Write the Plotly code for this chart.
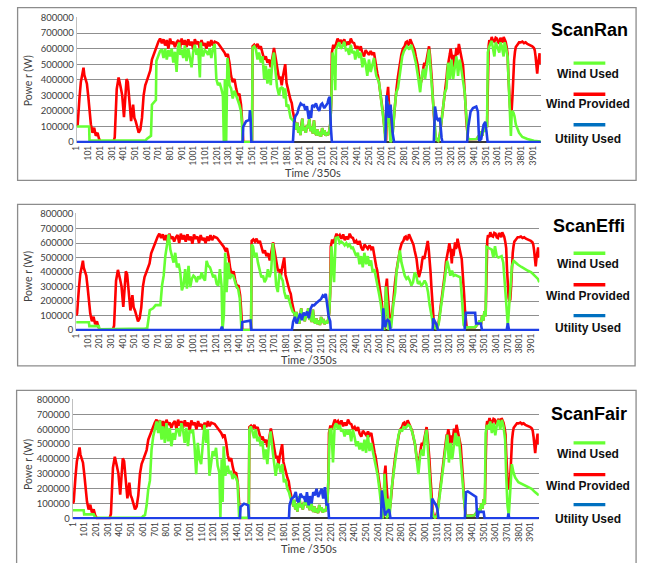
import plotly.graph_objects as go

# ---------------- data (time step index, power in kW; plotted in W) ----------------
X_TICKS = list(range(1, 4000, 100))
Y_TICKS = [0, 100000, 200000, 300000, 400000, 500000, 600000, 700000, 800000]

RED_A = [(1,100),(9,113),(24,280),(36,385),(50,440),(59,478),(66,430),(74,405),(88,375),(100,290),(111,195),(122,113),(136,60),(150,92),(164,40),(179,60),(192,20),(206,0),(314,0),(326,30),(343,340),(359,415),(376,355),(390,300),(405,160),(418,300),(427,405),(438,385),(452,260),(466,135),(483,240),(494,155),(505,135),(517,100),(531,60),(545,80),(559,155),(573,300),(587,365),(601,395),(616,435),(630,460),(644,530),(658,560),(672,595),(686,625),(700,645),(714,665),(729,635),(743,660),(757,620),(771,655),(785,600),(799,665),(813,630),(827,645),(841,610),(855,640),(870,655),(884,600),(898,665),(912,625),(926,655),(940,610),(955,660),(969,620),(983,645),(997,595),(1011,660),(1025,630),(1040,645),(1054,600),(1068,655),(1082,620),(1096,635),(1110,600),(1124,645),(1138,615),(1152,655),(1166,620),(1181,645),(1195,640),(1209,635),(1223,620),(1237,605),(1251,590),(1265,575),(1279,550),(1293,565),(1307,510),(1321,425),(1335,385),(1350,405),(1364,345),(1378,300),(1392,310),(1406,240),(1414,150),(1420,30),(1425,0),(1500,0),(1505,615),(1519,625),(1533,610),(1547,630),(1561,600),(1575,615),(1590,560),(1604,530),(1618,550),(1632,510),(1646,530),(1660,480),(1674,540),(1688,605),(1698,560),(1708,510),(1720,450),(1731,405),(1742,420),(1754,365),(1764,420),(1773,460),(1784,500),(1795,380),(1810,320),(1820,300),(1830,270),(1840,250),(1850,195),(1860,150)]

# low-wind stretch where all wind provided is used (shared by every panel)
LOW = [(1872,113),(1880,80),(1888,125),(1896,60),(1905,95),(1914,45),(1922,110),(1930,150),(1940,75),(1950,95),(1960,60),(1970,110),(1980,90),(1990,150),(2000,70),(2010,100),(2020,55),(2030,140),(2040,60),(2050,45),(2060,80),(2070,40),(2080,65),(2090,35),(2100,90),(2110,50),(2120,75),(2130,40),(2140,60),(2150,45),(2160,70),(2170,120),(2178,260)]

RED_B = [(2183,575),(2195,625),(2205,600),(2212,615),(2222,640),(2232,665),(2246,640),(2260,655),(2274,630),(2289,660),(2303,620),(2317,645),(2331,625),(2345,665),(2359,640),(2373,635),(2388,600),(2402,615),(2416,590),(2430,615),(2444,570),(2458,550),(2472,590),(2486,575),(2500,560),(2515,585),(2529,560),(2543,575),(2553,520),(2563,470),(2572,440),(2580,415),(2590,360),(2599,320),(2609,250),(2619,195),(2628,120),(2636,50),(2647,8),(2656,300),(2664,355),(2670,260),(2675,195),(2684,135),(2692,20),(2706,92),(2713,160),(2720,218),(2734,330),(2748,420),(2763,500),(2777,560),(2791,600),(2805,615),(2815,640),(2825,645),(2835,620),(2845,635),(2853,660),(2862,645),(2872,630),(2881,615),(2891,590),(2901,550),(2910,520),(2918,490),(2928,420),(2938,365),(2947,390),(2957,425),(2966,480),(2974,510),(2984,490),(2994,530),(3004,570),(3014,615),(3022,560),(3031,490),(3038,400),(3045,300),(3052,200),(3059,113),(3066,50),(3073,20),(3093,8),(3107,50),(3121,135),(3135,218),(3149,320),(3156,380),(3163,405),(3170,470),(3177,510),(3185,560),(3192,565),(3199,600),(3206,565),(3213,530),(3220,460),(3227,560),(3234,510),(3241,580),(3248,605),(3255,560),(3262,575),(3269,630),(3276,595),(3283,560),(3290,550),(3297,520),(3305,490),(3312,420),(3319,345),(3326,240),(3333,135),(3340,60)]

SMALL = [(3347,20),(3361,18),(3400,18),(3420,20),(3450,50),(3460,65),(3470,40),(3480,100),(3490,65),(3500,130),(3510,95)]

RED_C = [(3517,575),(3524,620),(3530,655),(3540,640),(3550,675),(3561,650),(3573,645),(3584,670),(3595,665),(3605,640),(3615,635),(3625,670),(3635,655),(3644,640),(3652,675),(3660,660),(3669,645),(3678,610),(3686,565),(3693,420),(3700,300),(3707,220),(3714,195),(3721,210),(3728,300),(3735,450),(3742,530),(3749,580),(3756,610),(3770,625),(3784,640),(3798,640),(3812,645),(3826,635),(3840,640),(3855,630),(3869,625),(3883,625),(3897,615),(3911,605),(3918,590),(3925,550),(3932,480),(3939,440),(3946,500),(3953,530),(3960,570),(3967,520),(3970,500)]

# ScanRan wind used
G1_A = [(1,100),(107,100),(110,10),(590,10),(600,20),(620,30),(636,40),(644,240),(658,250),(672,260),(678,270),(682,520),(700,560),(714,585),(729,595),(743,540),(757,600),(771,530),(785,590),(799,550),(813,600),(827,510),(841,580),(855,450),(866,600),(877,640),(887,560),(898,595),(912,540),(926,620),(940,520),(955,600),(969,540),(983,480),(997,580),(1011,625),(1025,560),(1040,600),(1054,415),(1061,640),(1068,600),(1082,550),(1096,590),(1110,580),(1124,560),(1138,600),(1152,540),(1166,600),(1181,630),(1188,500),(1195,405),(1209,365),(1223,380),(1237,345),(1251,300),(1259,0),(1268,405),(1279,0),(1290,540),(1300,470),(1307,365),(1321,345),(1335,280),(1350,330),(1364,300),(1378,260),(1392,240),(1406,195),(1414,120),(1420,0),(1500,0),(1505,605),(1519,615),(1533,595),(1547,530),(1561,575),(1575,510),(1590,550),(1604,405),(1618,490),(1632,375),(1646,470),(1660,365),(1674,520),(1688,575),(1700,460),(1714,355),(1731,300),(1742,345),(1754,350),(1764,345),(1773,280),(1784,345),(1795,228),(1810,240),(1820,195),(1830,155),(1850,140),(1860,130)]
G1_B = [(2183,575),(2189,575),(2203,510),(2212,333),(2218,595),(2232,620),(2246,640),(2260,600),(2274,615),(2289,645),(2303,590),(2317,595),(2331,560),(2345,625),(2359,570),(2373,585),(2383,530),(2402,595),(2416,540),(2430,575),(2444,480),(2458,540),(2472,500),(2486,425),(2500,530),(2515,450),(2529,500),(2543,540),(2553,470),(2563,425),(2586,385),(2600,300),(2609,250),(2619,195),(2628,120),(2640,8),(2656,230),(2661,260),(2675,113),(2684,0),(2692,10),(2706,70),(2720,218),(2734,320),(2748,345),(2768,470),(2785,550),(2800,585),(2825,615),(2845,595),(2862,625),(2881,575),(2901,510),(2923,405),(2938,320),(2952,425),(2966,470),(2980,405),(2997,510),(3014,595),(3031,425),(3045,280),(3059,113),(3066,50),(3073,20),(3093,8),(3107,50),(3121,135),(3135,218),(3149,320),(3163,345),(3177,510),(3192,405),(3206,530),(3220,405),(3234,490),(3248,550),(3262,425),(3276,530),(3290,470),(3305,405),(3319,320),(3326,240),(3333,135),(3340,60)]
G1_C = [(3517,575),(3530,615),(3550,650),(3561,600),(3573,550),(3584,640),(3595,615),(3605,590),(3615,575),(3625,640),(3635,620),(3652,550),(3660,640),(3669,615),(3686,550),(3693,420),(3700,300),(3707,200),(3714,40),(3722,200),(3735,190),(3745,165),(3756,113),(3784,60),(3812,33),(3855,20),(3911,8),(3970,4)]

# ScanEffi wind used
G2_A = [(1,54),(110,54),(114,27),(195,27),(200,5),(580,5),(590,10),(610,12),(624,100),(632,138),(660,150),(682,172),(723,172),(737,307),(751,375),(765,510),(780,590),(794,660),(808,555),(822,500),(836,465),(850,533),(865,432),(879,460),(893,398),(907,273),(921,307),(935,420),(950,285),(964,443),(978,296),(992,353),(1006,375),(1020,364),(1034,330),(1048,370),(1063,353),(1077,398),(1091,360),(1105,341),(1119,477),(1133,443),(1148,432),(1162,398),(1176,364),(1190,380),(1205,319),(1219,307),(1233,420),(1247,307),(1255,0),(1267,104),(1278,533),(1290,262),(1304,465),(1318,353),(1333,380),(1347,375),(1361,330),(1375,300),(1389,285),(1403,217),(1418,0),(1500,0),(1505,590),(1516,578),(1531,500),(1545,533),(1559,465),(1574,398),(1588,364),(1602,375),(1616,330),(1630,353),(1644,420),(1658,364),(1672,409),(1686,600),(1700,488),(1715,307),(1729,262),(1743,390),(1757,360),(1771,341),(1785,262),(1800,217),(1814,240),(1828,194),(1842,160),(1856,127)]
G2_B = [(2183,575),(2189,578),(2203,398),(2211,330),(2225,635),(2245,640),(2259,600),(2273,610),(2288,600),(2302,585),(2316,600),(2330,578),(2344,590),(2358,567),(2372,570),(2387,545),(2401,510),(2415,533),(2429,454),(2443,510),(2457,432),(2471,533),(2486,454),(2500,510),(2514,443),(2528,480),(2542,398),(2556,420),(2571,364),(2585,307),(2599,240),(2613,172),(2627,59),(2640,0),(2652,200),(2656,300),(2667,172),(2679,0),(2688,80),(2700,14),(2718,172),(2735,262),(2746,398),(2760,488),(2775,550),(2789,465),(2803,409),(2817,375),(2831,353),(2845,364),(2860,341),(2874,307),(2888,330),(2902,398),(2916,375),(2930,319),(2945,330),(2959,307),(2973,319),(2987,341),(3001,320),(3016,262),(3030,172),(3044,93),(3058,47),(3075,14),(3095,8),(3109,50),(3123,135),(3137,218),(3151,320),(3165,400),(3180,477),(3194,432),(3208,375),(3222,409),(3236,375),(3250,380),(3265,375),(3279,370),(3293,364),(3307,217),(3321,36),(3336,14)]
G2_C = [(3517,575),(3534,567),(3548,560),(3562,555),(3576,500),(3590,578),(3605,510),(3619,500),(3633,505),(3647,510),(3661,465),(3675,330),(3689,172),(3700,31),(3714,194),(3735,440),(3750,477),(3770,460),(3788,450),(3817,435),(3845,420),(3873,409),(3901,398),(3930,375),(3958,353),(3970,330)]

# ScanFair wind used
G3_A = [(1,55),(94,55),(98,27),(179,27),(193,4),(588,4),(600,15),(616,22),(630,88),(644,199),(658,254),(672,464),(686,552),(700,608),(715,652),(729,575),(743,660),(757,530),(771,619),(785,508),(799,641),(813,519),(827,608),(841,486),(856,575),(870,530),(884,600),(898,600),(912,552),(926,641),(940,597),(954,508),(968,610),(982,486),(996,595),(1010,575),(1024,600),(1038,486),(1052,298),(1066,508),(1080,398),(1094,365),(1108,486),(1122,630),(1137,508),(1151,600),(1165,287),(1179,387),(1193,453),(1207,420),(1221,475),(1235,354),(1249,309),(1258,4),(1269,398),(1277,110),(1286,486),(1300,287),(1320,354),(1334,300),(1348,320),(1362,265),(1376,290),(1390,276),(1404,243),(1418,4),(1500,4),(1505,597),(1517,619),(1531,586),(1545,540),(1559,600),(1573,519),(1588,550),(1602,486),(1616,520),(1630,398),(1644,464),(1658,365),(1672,508),(1686,586),(1700,475),(1714,365),(1729,287),(1743,365),(1757,360),(1771,309),(1785,365),(1799,243),(1813,265),(1828,199),(1842,177),(1856,133)]
G3_B = [(2183,575),(2189,597),(2203,600),(2217,376),(2231,619),(2245,640),(2259,600),(2273,630),(2287,586),(2302,600),(2316,552),(2330,597),(2344,564),(2358,597),(2372,519),(2386,597),(2400,552),(2415,486),(2429,519),(2443,464),(2457,508),(2471,453),(2485,530),(2499,442),(2514,560),(2528,453),(2542,508),(2556,453),(2570,398),(2584,343),(2598,287),(2612,199),(2626,88),(2640,0),(2652,199),(2656,300),(2666,133),(2677,0),(2686,133),(2699,11),(2716,199),(2733,309),(2747,420),(2761,490),(2775,560),(2789,600),(2804,585),(2818,615),(2837,610),(2857,630),(2874,620),(2894,575),(2914,508),(2930,398),(2944,298),(2959,420),(2973,464),(2987,420),(3001,552),(3015,597),(3026,486),(3040,287),(3054,110),(3068,22),(3085,4),(3105,22),(3119,110),(3133,199),(3147,298),(3161,398),(3175,464),(3190,564),(3204,376),(3218,508),(3232,398),(3246,486),(3260,575),(3274,486),(3288,552),(3302,420),(3316,287),(3330,110),(3345,18)]
G3_C = [(3517,575),(3528,630),(3542,600),(3556,652),(3570,575),(3585,640),(3599,560),(3613,630),(3627,663),(3641,597),(3655,663),(3669,619),(3683,530),(3692,287),(3703,88),(3714,18),(3726,199),(3740,365),(3754,309),(3768,276),(3796,243),(3824,232),(3852,221),(3881,210),(3909,199),(3937,177),(3965,159),(3970,155)]

# utility used
B1 = [(1,0),(1420,0),(1425,100),(1449,133),(1477,143),(1482,206),(1488,150),(1494,0),(1850,0),(1859,122),(1870,164),(1888,185),(1900,220),(1916,248),(1930,238),(1944,238),(1955,206),(1970,230),(1985,150),(1995,200),(2005,155),(2015,238),(2033,228),(2047,248),(2061,218),(2075,200),(2089,240),(2100,248),(2118,218),(2128,227),(2146,250),(2156,280),(2165,290),(2174,100),(2183,0),(2640,0),(2650,300),(2660,240),(2670,155),(2685,240),(2695,120),(2704,50),(2715,0),(3055,0),(3065,228),(3080,155),(3093,135),(3107,155),(3121,30),(3128,0),(3340,0),(3350,100),(3369,195),(3390,218),(3418,228),(3432,195),(3442,8),(3460,20),(3480,110),(3495,130),(3505,70),(3515,0),(3970,0)]
B2 = [(1,0),(1240,0),(1250,23),(1258,0),(1420,0),(1425,55),(1495,65),(1502,0),(1850,0),(1860,57),(1875,91),(1890,45),(1905,80),(1920,114),(1935,68),(1950,120),(1965,100),(1980,127),(1995,81),(2010,148),(2025,172),(2040,170),(2055,183),(2070,193),(2085,205),(2100,215),(2115,239),(2130,230),(2140,250),(2150,193),(2165,93),(2178,60),(2183,0),(2625,0),(2633,150),(2640,70),(2650,20),(2660,60),(2670,70),(2684,60),(2695,0),(3055,0),(3061,81),(3075,60),(3090,36),(3100,0),(3330,0),(3341,118),(3420,118),(3428,45),(3469,45),(3478,0),(3690,0),(3700,47),(3710,0),(3970,0)]
B3 = [(1,0),(1425,0),(1430,77),(1460,99),(1495,88),(1502,0),(1842,0),(1847,88),(1864,133),(1884,144),(1900,177),(1912,120),(1925,110),(1940,166),(1955,144),(1969,144),(1984,111),(1995,177),(2010,88),(2020,150),(2035,100),(2049,177),(2063,155),(2077,199),(2091,144),(2105,166),(2120,199),(2134,133),(2148,210),(2162,88),(2175,100),(2183,0),(2626,0),(2633,188),(2649,88),(2660,20),(2672,40),(2684,55),(2695,60),(2707,0),(3054,0),(3062,133),(3080,110),(3095,88),(3105,66),(3115,0),(3340,0),(3350,177),(3365,181),(3400,165),(3436,144),(3445,0),(3459,44),(3500,44),(3508,0),(3705,0),(3711,33),(3718,0),(3970,0)]

WIND_PROVIDED = RED_A + LOW + RED_B + SMALL + RED_C
WIND_USED = {
    "ScanRan": G1_A + LOW + G1_B + SMALL + G1_C,
    "ScanEffi": G2_A + LOW + G2_B + SMALL + G2_C,
    "ScanFair": G3_A + LOW + G3_B + SMALL + G3_C,
}
UTILITY_USED = {"ScanRan": B1, "ScanEffi": B2, "ScanFair": B3}

# ---------------- layout geometry (pixels) ----------------
W, H = 646, 563
GREEN, RED, BLUE, BLUE_LEG = "#66ff33", "#ff0000", "#1f3fe6", "#0070c0"

PANELS = [
    dict(name="ScanRan", px0=72.3, px1=540.0, ytop=12.7, ybot=139.3,
         box=(12.7, 2.7, 636.0, 178.3), title_y=25, leg=(59, 70, 90.7, 101, 121.7, 135.7),
         xtitle=(310, 170), ytitle=(22.7, 77)),
    dict(name="ScanEffi", px0=71.7, px1=538.5, ytop=212.5, ybot=330.3,
         box=(12.7, 202.7, 635.0, 366.7), title_y=225, leg=(252.3, 263.3, 284.3, 296, 315.7, 328.3),
         xtitle=(306, 360), ytitle=(22.7, 276)),
    dict(name="ScanFair", px0=68.3, px1=538.0, ytop=401.0, ybot=521.7,
         box=(11.7, 391.7, 636.0, 570.0), title_y=416, leg=(445, 456.7, 477.3, 489, 507.7, 522.7),
         xtitle=(306, 552.7), ytitle=(22.7, 467)),
]

YMIN, YMAX = -6000, 806000
TICKFONT = dict(family="Lato, Liberation Sans, sans-serif", size=9.5, color="#404040")

fig = go.Figure()
shapes, annotations = [], []
layout_axes = {}

def pts(series):
    return [p[0] for p in series], [p[1] * 1000 for p in series]

for i, p in enumerate(PANELS, start=1):
    sfx = "" if i == 1 else str(i)
    xa, ya = "x" + sfx, "y" + sfx
    span = p["ybot"] - p["ytop"]
    perunit = span / 800000.0
    pix_bottom = p["ybot"] - YMIN * perunit
    pix_top = p["ytop"] - (YMAX - 800000) * perunit
    layout_axes["xaxis" + sfx] = dict(
        domain=[p["px0"] / W, p["px1"] / W], range=[1, 3970], anchor=ya,
        tickmode="array", tickvals=X_TICKS, ticktext=[str(v) for v in X_TICKS],
        tickangle=-90, tickfont=dict(family="Lato, Liberation Sans, sans-serif", size=8.5, color="#404040"),
        showgrid=False, zeroline=False, showline=False, ticks="", layer="below traces")
    layout_axes["yaxis" + sfx] = dict(
        domain=[1 - pix_bottom / H, 1 - pix_top / H], range=[YMIN, YMAX], anchor=xa,
        tickmode="array", tickvals=Y_TICKS, ticktext=[str(v) for v in Y_TICKS],
        tickfont=TICKFONT, showgrid=True, gridcolor="#8f8f8f", gridwidth=1,
        zeroline=True, zerolinecolor="#3a3a3a", zerolinewidth=2,
        showline=True, linecolor="#c0c0c0", linewidth=1, ticks="", layer="below traces")

    tx, ty = pts(WIND_PROVIDED)
    fig.add_trace(go.Scatter(x=tx, y=ty, mode="lines", line=dict(color=RED, width=2.6),
                             xaxis=xa, yaxis=ya, showlegend=False, hoverinfo="skip"))
    tx, ty = pts(WIND_USED[p["name"]])
    fig.add_trace(go.Scatter(x=tx, y=ty, mode="lines", line=dict(color=GREEN, width=2.6),
                             xaxis=xa, yaxis=ya, showlegend=False, hoverinfo="skip"))
    tx, ty = pts(UTILITY_USED[p["name"]])
    fig.add_trace(go.Scatter(x=tx, y=ty, mode="lines", line=dict(color=BLUE, width=2.6),
                             xaxis=xa, yaxis=ya, showlegend=False, hoverinfo="skip"))

    bx0, by0, bx1, by1 = p["box"]
    shapes.append(dict(type="rect", xref="paper", yref="paper",
                       x0=bx0 / W, x1=bx1 / W, y0=1 - by1 / H, y1=1 - by0 / H,
                       line=dict(color="#8c8c8c", width=1.3), fillcolor="rgba(0,0,0,0)"))
    annotations.append(dict(text="<b>%s</b>" % p["name"], xref="paper", yref="paper",
                            x=589 / W, y=1 - p["title_y"] / H, showarrow=False,
                            xanchor="center", yanchor="middle",
                            font=dict(family="Liberation Sans, Arial, sans-serif", size=18, color="#000")))
    g_line, g_txt, r_line, r_txt, b_line, b_txt = p["leg"]
    for yl, yt, col, label in [(g_line, g_txt, GREEN, "Wind Used"),
                               (r_line, r_txt, RED, "Wind Provided"),
                               (b_line, b_txt, BLUE_LEG, "Utility Used")]:
        shapes.append(dict(type="line", xref="paper", yref="paper",
                           x0=573 / W, x1=605 / W, y0=1 - yl / H, y1=1 - yl / H,
                           line=dict(color=col, width=3.3)))
        annotations.append(dict(text="<b>%s</b>" % label, xref="paper", yref="paper",
                                x=588 / W, y=1 - yt / H, showarrow=False,
                                xanchor="center", yanchor="middle",
                                font=dict(family="Liberation Sans, Arial, sans-serif", size=12, color="#111")))
    annotations.append(dict(text="Time /350s", xref="paper", yref="paper",
                            x=p["xtitle"][0] / W, y=1 - p["xtitle"][1] / H, showarrow=False,
                            xanchor="center", yanchor="middle",
                            font=dict(family="Lato, Liberation Sans, sans-serif", size=11, color="#404040")))
    annotations.append(dict(text="Powe r (W)", xref="paper", yref="paper", textangle=-90,
                            x=p["ytitle"][0] / W, y=1 - p["ytitle"][1] / H, showarrow=False,
                            xanchor="center", yanchor="middle",
                            font=dict(family="Lato, Liberation Sans, sans-serif", size=10.5, color="#404040")))

fig.update_layout(width=W, height=H, margin=dict(l=0, r=0, t=0, b=0),
                  paper_bgcolor="white", plot_bgcolor="white",
                  shapes=shapes, annotations=annotations, showlegend=False, **layout_axes)

fig.write_html("out.html", config={"displayModeBar": False, "staticPlot": True},
               post_script="document.body.style.margin='0';document.body.style.overflow='hidden';")
